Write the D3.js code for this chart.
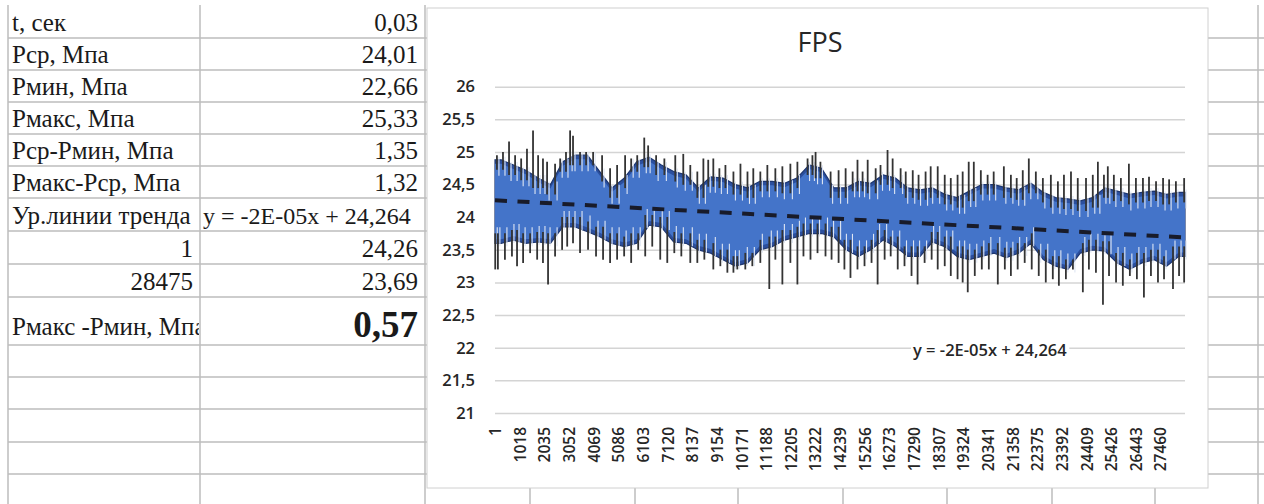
<!DOCTYPE html>
<html>
<head>
<meta charset="utf-8">
<script src="https://cdn.jsdelivr.net/npm/d3@7/dist/d3.min.js"></script>
<style>
body { margin: 0; background: #fff; }
</style>
</head>
<body>
<svg width="1264" height="504"></svg>
<script>
// sheet table values
const rowNames = ["t, сек", "Рср, Мпа", "Рмин, Мпа", "Рмакс, Мпа", "Рср-Рмин, Мпа",
    "Рмакс-Рср, Мпа", "Ур.линии тренда", "1", "28475", "Рмакс -Рмин, Мпа"];
const rowValues = ["0,03", "24,01", "22,66", "25,33", "1,35", "1,32",
    "y = -2E-05x + 24,264", "24,26", "23,69", "0,57"];

// chart series
const N = 28475;
const xTicks = [1, 1018, 2035, 3052, 4069, 5086, 6103, 7120, 8137, 9154, 10171, 11188, 12205, 13222,
    14239, 15256, 16273, 17290, 18307, 19324, 20341, 21358, 22375, 23392, 24409, 25426, 26443, 27460];
const yTicks = [21, 21.5, 22, 22.5, 23, 23.5, 24, 24.5, 25, 25.5, 26];

// dense core of the line, upper / lower edge per 1/56 of the samples
const bandHi = [24.88, 24.8, 24.72, 24.6, 24.5, 24.85, 24.95, 24.95, 24.7, 24.45, 24.6, 24.85, 24.92, 24.8,
    24.7, 24.65, 24.45, 24.62, 24.6, 24.5, 24.45, 24.55, 24.55, 24.52, 24.6, 24.8, 24.75, 24.45,
    24.45, 24.55, 24.52, 24.65, 24.6, 24.45, 24.42, 24.45, 24.35, 24.3, 24.4, 24.5, 24.5, 24.45,
    24.42, 24.52, 24.38, 24.3, 24.28, 24.25, 24.3, 24.45, 24.4, 24.35, 24.38, 24.4, 24.35, 24.38];
const bandLo = [23.6, 23.65, 23.6, 23.62, 23.6, 23.85, 23.85, 23.78, 23.7, 23.6, 23.55, 23.6, 23.88, 23.85,
    23.62, 23.6, 23.5, 23.45, 23.35, 23.25, 23.3, 23.5, 23.55, 23.65, 23.7, 23.75, 23.75, 23.7,
    23.5, 23.4, 23.5, 23.65, 23.55, 23.4, 23.4, 23.62, 23.55, 23.4, 23.35, 23.4, 23.45, 23.38,
    23.45, 23.6, 23.35, 23.25, 23.2, 23.45, 23.5, 23.48, 23.3, 23.2, 23.3, 23.35, 23.25, 23.4];

// single peaks outside the core [sample, value]
const spikesUp = [[80,24.95],[330,25.0],[580,25.16],[830,24.95],[1080,24.9],[1320,25.05],[1570,25.33],
    [1780,24.95],[1980,24.9],[2150,24.85],[2480,24.82],[2690,24.9],[2930,25.0],[3100,25.33],[3220,25.25],
    [3510,25.0],[3760,25.0],[4050,25.0],[4420,24.95],[4750,24.75],[5040,24.8],[5370,24.95],[5620,24.9],
    [5870,24.95],[6160,25.22],[6320,25.1],[6650,24.95],[6990,24.9],[7440,24.95],[7770,24.97],[8060,24.8],
    [8350,24.7],[8600,24.9],[8800,24.88],[9010,24.9],[9260,24.75],[9510,24.8],[9840,24.7],[10130,24.82],
    [10420,24.7],[10660,24.75],[10950,24.7],[11240,24.8],[11570,24.75],[11860,24.78],[12190,24.82],
    [12480,24.85],[12900,24.9],[13100,24.95],[13230,25.0],[13430,24.85],[13850,24.7],[14180,24.72],
    [14470,24.75],[14760,24.7],[14960,24.88],[15170,24.7],[15380,24.88],[15710,24.75],[15910,24.8],
    [16200,25.03],[16410,24.9],[16740,24.75],[16950,24.7],[17240,24.72],[17480,24.65],[17770,24.7],
    [17980,24.78],[18270,24.78],[18560,24.65],[18810,24.6],[19090,24.65],[19300,24.7],[19550,24.85],
    [19760,24.85],[20050,24.72],[20330,24.65],[20580,24.7],[21000,24.78],[21290,24.65],[21530,24.6],
    [21780,24.72],[22030,24.9],[22320,24.7],[22610,24.6],[22940,24.65],[23230,24.55],[23480,24.65],
    [23770,24.7],[24050,24.6],[24390,24.6],[24670,24.65],[24880,24.85],[25130,24.65],[25290,24.78],
    [25540,24.65],[25830,24.6],[26160,24.82],[26450,24.6],[26740,24.6],[26990,24.62],[27280,24.55],
    [27570,24.6],[27820,24.58],[28100,24.55],[28440,24.6]];
const spikesDown = [[10,23.2],[120,23.2],[410,23.35],[700,23.4],[910,23.25],[1160,23.3],[1450,23.45],
    [1740,23.35],[1980,23.3],[2190,22.97],[2480,23.4],[2770,23.5],[2980,23.55],[3220,23.6],[3510,23.45],
    [3840,23.5],[4170,23.4],[4460,23.35],[4750,23.3],[5040,23.35],[5330,23.4],[5620,23.3],[5910,23.5],
    [6200,23.4],[6490,23.55],[6820,23.35],[7110,23.3],[7400,23.45],[7690,23.4],[8060,23.3],[8350,23.3],
    [8640,23.35],[9010,23.2],[9300,23.25],[9590,23.15],[9840,23.15],[10000,23.2],[10330,23.2],
    [10620,23.25],[10950,23.3],[11320,22.9],[11570,23.35],[11860,22.97],[12190,23.3],[12480,22.97],
    [12730,23.4],[13020,23.35],[13310,23.45],[13640,23.4],[13890,23.35],[14180,23.3],[14420,23.2],
    [14670,23.07],[14960,23.2],[15250,23.25],[15540,23.3],[15790,22.97],[16080,23.35],[16330,23.4],
    [16620,23.2],[16900,23.25],[17190,23.1],[17440,22.97],[17730,23.3],[18020,23.35],[18270,23.2],
    [18560,23.25],[18810,23.1],[19090,23.05],[19300,23.0],[19510,22.85],[19800,23.1],[20090,23.2],
    [20380,23.2],[20750,22.97],[21040,23.2],[21290,23.1],[21570,23.2],[21860,23.3],[22150,23.2],
    [22440,23.1],[22730,23.0],[23020,23.05],[23270,22.95],[23560,23.05],[23850,23.2],[24260,22.85],
    [24510,23.2],[24800,23.15],[25090,22.66],[25340,23.1],[25630,23.0],[25910,22.95],[26200,23.1],
    [26490,23.05],[26780,22.77],[27070,23.1],[27360,23.0],[27610,23.05],[27980,22.9],[28230,23.1],
    [28440,23.0]];

// linear trend (values at first and last sample)
const trend = [[1, 24.26], [N, 23.69]];
const trendText = "y = -2E-05x + 24,264";

var svg = d3.select("svg");
var gridColor = "#bdbdbd";

// ---- spreadsheet cells ----
var rowLines = [38, 70, 102, 134, 166, 198, 231, 264, 297, 345, 377, 409, 442, 474];
var sheet = svg.append("g");

sheet.selectAll(".hrow")
    .data(rowLines)
    .enter()
    .append("line")
    .attr("x1", 8).attr("x2", 1264)
    .attr("y1", d => d).attr("y2", d => d)
    .attr("stroke", gridColor)
    .attr("stroke-width", 1.5);

sheet.selectAll(".vcol")
    .data([8, 200, 425, 1258])
    .enter()
    .append("line")
    .attr("x1", d => d).attr("x2", d => d)
    .attr("y1", 5).attr("y2", 504)
    .attr("stroke", gridColor)
    .attr("stroke-width", 1.5);

// columns below the chart
sheet.selectAll(".vcol2")
    .data([530, 635, 738, 843, 947, 1052, 1155])
    .enter()
    .append("line")
    .attr("x1", d => d).attr("x2", d => d)
    .attr("y1", 488).attr("y2", 504)
    .attr("stroke", gridColor)
    .attr("stroke-width", 1.5);

svg.append("clipPath").attr("id", "colA")
    .append("rect").attr("x", 8).attr("y", 0).attr("width", 191).attr("height", 504);

var rowBottom = rowLines.slice(0, rowNames.length);

sheet.selectAll(".name")
    .data(rowNames)
    .enter()
    .append("text")
    .attr("clip-path", "url(#colA)")
    .attr("x", (d, i) => (i == 7 || i == 8) ? 193 : 12)
    .attr("y", (d, i) => rowBottom[i] - (i == 9 ? 10 : 7))
    .attr("text-anchor", (d, i) => (i == 7 || i == 8) ? "end" : "start")
    .style("font-family", "'Liberation Serif', 'DejaVu Serif', serif")
    .style("font-size", "25px")
    .attr("fill", "#1a1a1a")
    .text(d => d);

sheet.selectAll(".value")
    .data(rowValues)
    .enter()
    .append("text")
    .attr("x", (d, i) => i == 6 ? 203 : 418)
    .attr("y", (d, i) => rowBottom[i] - (i == 9 ? 8 : 7))
    .attr("text-anchor", (d, i) => i == 6 ? "start" : "end")
    .style("font-family", "'Liberation Serif', 'DejaVu Serif', serif")
    .style("font-size", (d, i) => i == 9 ? "37px" : (i == 6 ? "24px" : "25px"))
    .style("font-weight", (d, i) => i == 9 ? "bold" : "normal")
    .attr("fill", "#1a1a1a")
    .text(d => d);

// ---- chart ----
var box = {left: 427, top: 8, right: 1208, bottom: 488};
svg.append("rect")
    .attr("x", box.left).attr("y", box.top)
    .attr("width", box.right - box.left).attr("height", box.bottom - box.top)
    .attr("fill", "#fff")
    .attr("stroke", "#d0d0d0");

var plot = {left: 495, right: 1185, top: 86.7, bottom: 413};

var x = d3.scaleLinear().domain([0.5, N + 0.5]).range([plot.left, plot.right]);
var y = d3.scaleLinear().domain([21, 26]).range([plot.bottom, plot.top]);
var comma = d => String(d).replace(".", ",");

var yAxis = svg.append("g")
    .attr("transform", "translate(" + plot.left + ",0)")
    .call(d3.axisLeft(y).tickValues(yTicks).tickSize(-(plot.right - plot.left)).tickPadding(20).tickFormat(comma));
yAxis.select(".domain").remove();
yAxis.selectAll(".tick line").attr("stroke", "#d4d4d4").attr("stroke-width", 1.5);
yAxis.selectAll(".tick text")
    .attr("fill", "#262626")
    .style("font-family", "'Open Sans', sans-serif")
    .style("font-weight", "600")
    .style("font-size", "16.5px");

var xAxis = svg.append("g")
    .attr("transform", "translate(0," + plot.bottom + ")")
    .call(d3.axisBottom(x).tickValues(xTicks).tickSize(0).tickFormat(d => String(d)));
xAxis.select(".domain").remove();
xAxis.selectAll(".tick text")
    .attr("transform", "rotate(-90)")
    .attr("text-anchor", "end")
    .attr("x", -14)
    .attr("y", 0)
    .attr("dy", "0.36em")
    .attr("fill", "#262626")
    .style("font-family", "'Open Sans', sans-serif")
    .style("font-weight", "600")
    .style("font-size", "15.5px");

// band of the dense line
var binSize = N / bandHi.length;
var bandData = bandHi.map((h, i) => ({i: 1 + (i + 0.5) * binSize, hi: h, lo: bandLo[i]}));
bandData.unshift({i: 1, hi: bandHi[0], lo: bandLo[0]});
bandData.push({i: N, hi: bandHi[bandHi.length - 1], lo: bandLo[bandLo.length - 1]});

var outer = d3.area()
    .x(d => x(d.i))
    .y0(d => y(d.lo))
    .y1(d => y(d.hi));

// lighter core a few pixels inside the edges
var inner = d3.area()
    .x(d => x(d.i))
    .y0(d => y(d.lo) - 4)
    .y1(d => y(d.hi) + 4);

svg.append("path")
    .datum(bandData)
    .attr("d", outer)
    .attr("fill", "#2b4f9e")
    .attr("stroke", "#1d3670")
    .attr("stroke-width", 1.2);

svg.append("path")
    .datum(bandData)
    .attr("d", inner)
    .attr("fill", "#4474c9");

function bandAt(idx, key) {
    var b = Math.min(bandHi.length - 1, Math.floor((idx - 1) / binSize));
    return key == "hi" ? bandHi[b] : bandLo[b];
}

var spikes = svg.append("g");

// light gaps cutting into the band next to each peak
spikes.selectAll(".upw")
    .data(spikesUp)
    .enter()
    .append("line")
    .attr("x1", d => x(d[0]) + 2).attr("x2", d => x(d[0]) + 2)
    .attr("y1", d => y(bandAt(d[0], "hi")) - 3)
    .attr("y2", d => y(bandAt(d[0], "hi")) + 16)
    .attr("stroke", "#dfe6f3")
    .attr("stroke-width", 1.1);

spikes.selectAll(".downw")
    .data(spikesDown)
    .enter()
    .append("line")
    .attr("x1", d => x(d[0]) + 2).attr("x2", d => x(d[0]) + 2)
    .attr("y1", d => y(bandAt(d[0], "lo")) + 3)
    .attr("y2", d => y(bandAt(d[0], "lo")) - 16)
    .attr("stroke", "#dfe6f3")
    .attr("stroke-width", 1.1);

spikes.selectAll(".up")
    .data(spikesUp)
    .enter()
    .append("line")
    .attr("x1", d => x(d[0])).attr("x2", d => x(d[0]))
    .attr("y1", d => y(bandAt(d[0], "hi")) + 10)
    .attr("y2", d => y(d[1]))
    .attr("stroke", "#333")
    .attr("stroke-width", 1.8);

spikes.selectAll(".down")
    .data(spikesDown)
    .enter()
    .append("line")
    .attr("x1", d => x(d[0])).attr("x2", d => x(d[0]))
    .attr("y1", d => y(bandAt(d[0], "lo")) - 10)
    .attr("y2", d => y(d[1]))
    .attr("stroke", "#333")
    .attr("stroke-width", 1.8);

// trend line
svg.append("path")
    .datum(trend)
    .attr("d", d3.line().x(d => x(d[0])).y(d => y(d[1])))
    .attr("fill", "none")
    .attr("stroke", "#181b2a")
    .attr("stroke-width", 4)
    .attr("stroke-dasharray", "12,10.5");

// trend equation label
var eq = svg.append("g").attr("transform", "translate(913,356)");
var eqText = eq.append("text")
    .attr("fill", "#262626")
    .style("font-family", "'Open Sans', sans-serif")
    .style("font-size", "16.5px")
    .style("font-weight", "600")
    .text(trendText);
var bb = eqText.node().getBBox();
eq.insert("rect", "text")
    .attr("x", bb.x - 2).attr("y", bb.y)
    .attr("width", bb.width + 4).attr("height", bb.height)
    .attr("fill", "#fff");

// title
svg.append("text")
    .attr("x", 820)
    .attr("y", 52)
    .attr("text-anchor", "middle")
    .attr("fill", "#262626")
    .style("font-family", "'Open Sans', sans-serif")
    .style("font-size", "27px")
    .text("FPS");
</script>
</body>
</html>
